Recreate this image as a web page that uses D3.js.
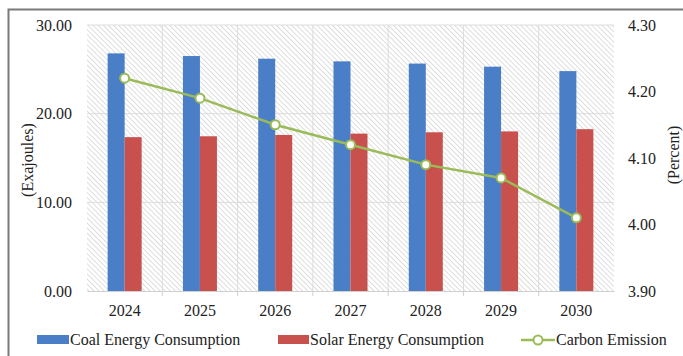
<!DOCTYPE html>
<html>
<head>
<meta charset="utf-8">
<script src="https://cdn.jsdelivr.net/npm/d3@7"></script>
<style>
  body { margin: 0; background: #fff; }
</style>
</head>
<body>
<div id="chart"></div>
<script>
'use strict';
// Chart data
const years = ['2024', '2025', '2026', '2027', '2028', '2029', '2030']
const coal = [26.8, 26.5, 26.2, 25.9, 25.65, 25.3, 24.8]
const solar = [17.35, 17.45, 17.6, 17.75, 17.9, 18.0, 18.25]
const carbon = [4.22, 4.19, 4.15, 4.12, 4.09, 4.07, 4.01]
const leftTicks = [0, 10, 20, 30]
const rightTicks = [3.9, 4.0, 4.1, 4.2, 4.3]

const W = 683, H = 356
const margin = { top: 25, bottom: 65, left: 87, right: 69 }
const width = W - margin.left - margin.right
const height = H - margin.top - margin.bottom
const serif = "'Liberation Serif', 'DejaVu Serif', 'Times New Roman', serif"

const svg = d3.select('#chart').append('svg')
    .attr('width', W)
    .attr('height', H)

// Outer frame
svg.append('rect')
    .attr('x', 8.5).attr('y', 9.5)
    .attr('width', 690).attr('height', 400)
    .attr('fill', 'none')
    .attr('stroke', '#7a7a7a')
    .attr('stroke-width', 2)

// Hatched plot background
const defs = svg.append('defs')
defs.append('pattern')
    .attr('id', 'hatch')
    .attr('patternUnits', 'userSpaceOnUse')
    .attr('width', 3.6).attr('height', 3.6)
    .attr('patternTransform', 'rotate(-45)')
    .append('line')
    .attr('x1', 0).attr('y1', 0).attr('x2', 0).attr('y2', 3.6)
    .attr('stroke', '#d6d6d6')
    .attr('stroke-width', 1.6)

const g = svg.append('g').attr('transform', `translate(${margin.left},${margin.top})`)

const x = d3.scaleBand().domain(years).range([0, width])
const xs = d3.scaleBand().domain(['coal', 'solar']).range([x.bandwidth() / 2 - 17, x.bandwidth() / 2 + 17])
const y = d3.scaleLinear().domain([0, 30]).range([height, 0])
const y2 = d3.scaleLinear().domain([3.9, 4.3]).range([height, 0])

g.append('rect')
    .attr('width', width).attr('height', height)
    .attr('fill', 'url(#hatch)')

// Gridlines
g.append('g')
    .selectAll('line.hgrid')
    .data(leftTicks.slice(1))
    .join('line')
    .attr('x1', 0).attr('x2', width)
    .attr('y1', d => y(d)).attr('y2', d => y(d))
    .attr('stroke', '#dcdcdc')
    .attr('stroke-width', 1)
g.append('g')
    .selectAll('line.vgrid')
    .data(years.slice(1))
    .join('line')
    .attr('x1', d => x(d)).attr('x2', d => x(d))
    .attr('y1', 0).attr('y2', height)
    .attr('stroke', '#dcdcdc')
    .attr('stroke-width', 1)

// Bars
const groups = g.selectAll('g.year')
    .data(years)
    .join('g')
    .attr('transform', d => `translate(${x(d)},0)`)
groups.append('rect')
    .attr('x', xs('coal'))
    .attr('width', xs.bandwidth())
    .attr('y', (d, i) => y(coal[i]))
    .attr('height', (d, i) => height - y(coal[i]))
    .attr('fill', '#4a7ec6')
groups.append('rect')
    .attr('x', xs('solar'))
    .attr('width', xs.bandwidth())
    .attr('y', (d, i) => y(solar[i]))
    .attr('height', (d, i) => height - y(solar[i]))
    .attr('fill', '#c8504d')

// Bottom axis
const xAxis = g.append('g')
    .attr('transform', `translate(0,${height})`)
    .call(d3.axisBottom(x).tickSize(0).tickPadding(14))
xAxis.select('.domain').attr('stroke', '#d0d0d0')
xAxis.selectAll('text').style('font-size', '16px')
xAxis.append('g')
    .selectAll('line')
    .data(years.slice(1))
    .join('line')
    .attr('x1', d => x(d)).attr('x2', d => x(d))
    .attr('y1', 0).attr('y2', 5)
    .attr('stroke', '#d0d0d0')

// Left axis
const yAxis = g.append('g')
    .call(d3.axisLeft(y).tickValues(leftTicks).tickFormat(d3.format('.2f')).tickSize(0).tickPadding(15))
yAxis.select('.domain').remove()
yAxis.selectAll('text').style('font-size', '16px')

// Right axis
const yAxis2 = g.append('g')
    .attr('transform', `translate(${width},0)`)
    .call(d3.axisRight(y2).tickValues(rightTicks).tickFormat(d3.format('.2f')).tickSize(0).tickPadding(14))
yAxis2.select('.domain').remove()
yAxis2.selectAll('text').style('font-size', '16px')

// Carbon emission line
const line = d3.line()
    .x((d, i) => x(years[i]) + x.bandwidth() / 2)
    .y(d => y2(d))
g.append('path').datum(carbon)
    .attr('d', line)
    .attr('fill', 'none')
    .attr('stroke', '#9bbb59')
    .attr('stroke-width', 2.5)
g.selectAll('circle.pt')
    .data(carbon)
    .join('circle')
    .attr('cx', (d, i) => x(years[i]) + x.bandwidth() / 2)
    .attr('cy', d => y2(d))
    .attr('r', 4.5)
    .attr('fill', '#fff')
    .attr('stroke', '#9bbb59')
    .attr('stroke-width', 2)

// Axis titles
svg.append('text')
    .attr('transform', `translate(33,160) rotate(-90)`)
    .attr('text-anchor', 'middle')
    .style('font-size', '16px')
    .text('(Exajoules)')
svg.append('text')
    .attr('transform', `translate(679,155) rotate(-90)`)
    .attr('text-anchor', 'middle')
    .style('font-size', '16px')
    .text('(Percent)')

// Legend
const legY = 340
const legend = svg.append('g')
legend.append('rect')
    .attr('x', 37).attr('y', legY - 5).attr('width', 32).attr('height', 9)
    .attr('fill', '#4a7ec6')
legend.append('text')
    .attr('x', 70).attr('y', legY + 5)
    .style('font-size', '16px')
    .text('Coal Energy Consumption')
legend.append('rect')
    .attr('x', 278).attr('y', legY - 5).attr('width', 31).attr('height', 9)
    .attr('fill', '#c8504d')
legend.append('text')
    .attr('x', 310).attr('y', legY + 5)
    .style('font-size', '16px')
    .text('Solar Energy Consumption')
legend.append('line')
    .attr('x1', 521).attr('x2', 555)
    .attr('y1', legY).attr('y2', legY)
    .attr('stroke', '#9bbb59').attr('stroke-width', 2.5)
legend.append('circle')
    .attr('cx', 538).attr('cy', legY).attr('r', 4.5)
    .attr('fill', '#fff').attr('stroke', '#9bbb59').attr('stroke-width', 2)
legend.append('text')
    .attr('x', 556).attr('y', legY + 5)
    .style('font-size', '16px')
    .text('Carbon Emission')

// Serif font everywhere
svg.selectAll('text')
    .style('font-family', serif)
    .attr('fill', '#222')
</script>
</body>
</html>
